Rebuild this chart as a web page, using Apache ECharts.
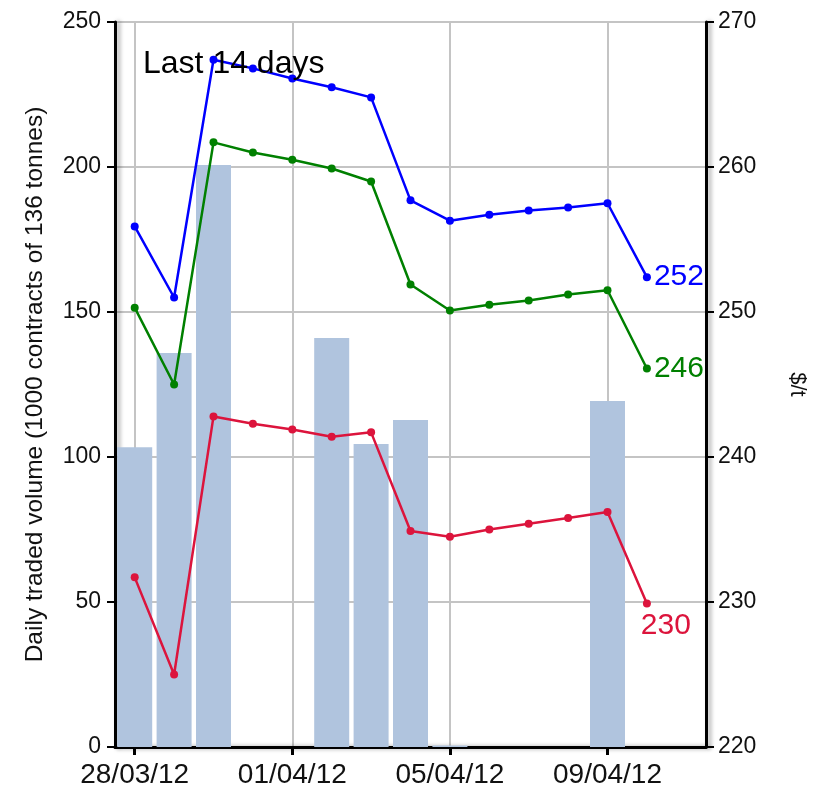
<!DOCTYPE html>
<html>
<head>
<meta charset="utf-8">
<title>Last 14 days</title>
<script src="https://cdn.jsdelivr.net/npm/echarts@6/dist/echarts.min.js"></script>
<style>
	html, body { margin: 0; padding: 0; background: #fff; }
	#grafica { width: 821px; height: 795px; }
</style>
</head>
<body>
<div id="grafica"></div>
<script>
// Days shown on the axis (index = day number from 28/03/12)
let dias = ['28/03/12', '29/03/12', '30/03/12', '31/03/12', '01/04/12', '02/04/12', '03/04/12',
	'04/04/12', '05/04/12', '06/04/12', '07/04/12', '08/04/12', '09/04/12', '10/04/12'];
let diasConEtiqueta = [0, 4, 8, 12];

// Daily traded volume (bars), only trading days
let diasVolumen = [0, 1, 2, 5, 6, 7, 8, 12];
let volumen = [103.4, 135.9, 200.7, 141.0, 104.5, 112.8, 0.5, 119.3];

// Prices $/t
let precioAzul = [255.9, 251.0, 267.4, 266.8, 266.1, 265.5, 264.8, 257.7, 256.3, 256.7, 257.0, 257.2, 257.5, 252.4];
let precioVerde = [250.3, 245.0, 261.7, 261.0, 260.5, 259.9, 259.0, 251.9, 250.1, 250.5, 250.8, 251.2, 251.5, 246.1];
let precioRojo = [231.7, 225.0, 242.8, 242.3, 241.9, 241.4, 241.7, 234.9, 234.5, 235.0, 235.4, 235.8, 236.2, 229.9];

let fuente = '"Liberation Sans", Arial, Helvetica, sans-serif';

function puntos(valores, color, posicion, desplazamiento) {
	return valores.map(function (v, i) {
		let item = { value: [i, v] };
		if (i === valores.length - 1) {
			item.label = {
				show: true,
				position: posicion,
				distance: 3,
				offset: desplazamiento,
				color: color,
				fontSize: 30,
				fontFamily: fuente,
				formatter: function (p) { return Math.round(p.value[1]); }
			};
		}
		return item;
	});
}

function serieLinea(nombre, valores, color, posicion, desplazamiento) {
	return {
		name: nombre,
		type: 'line',
		yAxisIndex: 1,
		data: puntos(valores, color, posicion, desplazamiento),
		symbol: 'circle',
		symbolSize: 8,
		lineStyle: { color: color, width: 2.5 },
		itemStyle: { color: color },
		z: 3
	};
}

var grafica = echarts.init(document.getElementById('grafica'));

var ejeNegro = {
	show: true,
	onZero: false,
	lineStyle: {
		color: '#000',
		width: 3,
		shadowColor: 'rgba(0,0,0,0.35)',
		shadowBlur: 4,
		shadowOffsetX: 3
	}
};

var option = {
	animation: false,
	textStyle: { fontFamily: fuente },

	title: {
		text: 'Last 14 days',
		left: 138,
		top: 43,
		textStyle: { fontSize: 32, fontWeight: 'normal', color: '#000', fontFamily: fuente }
	},

	grid: {
		left: 115,
		right: 115,
		top: 22,
		bottom: 48
	},

	xAxis: {
		type: 'value',
		min: -0.5,
		max: 14.5,
		axisLine: ejeNegro,
		axisTick: {
			show: true,
			length: 8,
			customValues: diasConEtiqueta,
			lineStyle: { color: '#000', width: 3 }
		},
		axisLabel: {
			customValues: diasConEtiqueta,
			color: '#111',
			fontSize: 28,
			margin: 14,
			formatter: function (v) { return dias[v] || ''; }
		},
		splitLine: {
			show: true,
			lineStyle: { color: '#c4c4c4', width: 2 }
		}
	},

	yAxis: [{
		type: 'value',
		min: 0,
		max: 250,
		interval: 50,
		name: 'Daily traded volume (1000 contracts of 136 tonnes)',
		nameLocation: 'middle',
		nameGap: 67,
		nameTextStyle: { fontSize: 24.5, color: '#111' },
		axisLine: ejeNegro,
		axisTick: { show: true, length: 8, lineStyle: { color: '#000', width: 2 } },
		axisLabel: { fontSize: 23, color: '#111', margin: 14 },
		splitLine: { show: true, lineStyle: { color: '#c4c4c4', width: 2 } }
	}, {
		type: 'value',
		min: 220,
		max: 270,
		interval: 10,
		position: 'right',
		name: '$/t',
		nameLocation: 'middle',
		nameRotate: -90,
		nameGap: 80,
		nameTextStyle: { fontSize: 22, color: '#111' },
		axisLine: ejeNegro,
		axisTick: { show: true, length: 8, lineStyle: { color: '#000', width: 2 } },
		axisLabel: { fontSize: 23, color: '#111', margin: 12 },
		splitLine: { show: false }
	}],

	series: [
		{
			name: 'Volume',
			type: 'bar',
			yAxisIndex: 0,
			barWidth: 35,
			data: diasVolumen.map(function (d, i) { return [d, volumen[i]]; }),
			itemStyle: { color: '#b0c4de' },
			z: 2
		},
		serieLinea('Blue', precioAzul, '#0000ff', 'right', [0, 0]),
		serieLinea('Green', precioVerde, '#008000', 'right', [0, 0]),
		serieLinea('Red', precioRojo, '#dc143c', 'bottom', [19, 0])
	]
};

grafica.setOption(option);
</script>
</body>
</html>
